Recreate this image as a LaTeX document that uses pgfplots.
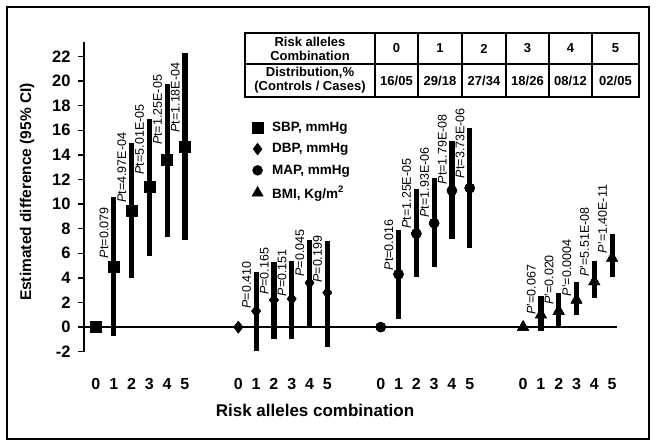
\documentclass[border=0pt]{standalone}
\usepackage{fontspec}
\setmainfont{Liberation Sans}
\usepackage{pgfplots}
\pgfplotsset{compat=1.18}
\usepackage{pgfplotstable}

% x = position, y = estimate, lo/hi = 95% CI
\pgfplotstableread{
x y lo hi
0 0 0 0
1 4.95 -0.7 10.6
2 9.5 4.0 15.0
3 11.4 5.8 16.9
4 13.6 7.3 19.8
5 14.7 7.1 22.3
}\sbp
\pgfplotstableread{
x y lo hi
8 0 0 0
9 1.3 -1.95 4.5
10 2.2 -1.0 5.3
11 2.3 -1.0 5.4
12 3.6 0.05 7.1
13 2.8 -1.6 7.0
}\dbp
\pgfplotstableread{
x y lo hi
16 0 0 0
17 4.3 0.65 7.9
18 7.6 4.1 11.2
19 8.45 4.9 12.1
20 11.1 7.15 15.1
21 11.3 6.4 16.2
}\map
\pgfplotstableread{
x y lo hi
24 0 0 0
25 1.0 -0.3 2.5
26 1.3 0.05 2.8
27 2.2 1.0 3.7
28 3.7 2.35 5.4
29 5.6 4.05 7.6
}\bmi

\pgfplotsset{ebar/.style={draw=none, mark=none, forget plot, skip coords between index={0}{1},
  error bars/.cd, y dir=both, y explicit, error mark=none,
  error bar style={line width=5.2pt, black}}}

\begin{document}
\begin{tikzpicture}[x=1pt,y=1pt]
\useasboundingbox (0,0) rectangle (658,447);
\draw[line width=1.8pt] (7,440) rectangle (649,8);

\begin{axis}[
  at={(84pt,95.3pt)}, anchor=south west, scale only axis,
  width=537pt, height=310pt,
  xmin=-0.67, xmax=29.5, ymin=-2, ymax=23.2,
  clip=false,
  axis lines=left,
  axis line style={-, line width=1.8pt},
  x axis line style={draw=none},
  ytick={-2,0,2,4,6,8,10,12,14,16,18,20,22},
  xtick={0,1,2,3,4,5,8,9,10,11,12,13,16,17,18,19,20,21,24,25,26,27,28,29},
  xticklabels={0,1,2,3,4,5,0,1,2,3,4,5,0,1,2,3,4,5,0,1,2,3,4,5},
  tick align=outside,
  major tick length=6pt,
  ytick style={line width=1.5pt, black},
  xtick style={draw=none},
  /pgf/number format/assume math mode=true,
  yticklabel style={font=\bfseries\fontsize{16.5}{16.5}\selectfont, xshift=-4pt},
  xticklabel style={font=\bfseries\fontsize{16}{16}\selectfont, yshift=-17pt},
  legend style={at={(0.3124,0.7473)}, anchor=north west, draw=none, fill=none,
    font=\bfseries\fontsize{13.5}{13.5}\selectfont, row sep=6.5pt,
    inner sep=0pt, /tikz/every odd column/.append style={column sep=7pt}},
  legend cell align=left,
]
\draw[line width=1.8pt] (axis cs:-0.67,0) -- (axis cs:29.3,0);

\addplot[only marks, mark=square*, mark size=5.5pt, black] table[x=x,y=y] {\sbp};
\addlegendentry{SBP, mmHg}
\addplot[only marks, mark=diamond*, mark size=6pt, black] table[x=x,y=y] {\dbp};
\addlegendentry{DBP, mmHg}
\addplot[only marks, mark=*, mark size=5pt, black] table[x=x,y=y] {\map};
\addlegendentry{MAP, mmHg}
\addplot[only marks, mark=triangle*, mark size=6.5pt, black] table[x=x,y=y] {\bmi};
\addlegendentry{BMI, Kg/m\textsuperscript{2}}

\addplot[ebar] table[x=x, y=y, y error plus expr=\thisrow{hi}-\thisrow{y},
        y error minus expr=\thisrow{y}-\thisrow{lo}] {\sbp};
\addplot[ebar] table[x=x, y=y, y error plus expr=\thisrow{hi}-\thisrow{y},
        y error minus expr=\thisrow{y}-\thisrow{lo}] {\dbp};
\addplot[ebar] table[x=x, y=y, y error plus expr=\thisrow{hi}-\thisrow{y},
        y error minus expr=\thisrow{y}-\thisrow{lo}] {\map};
\addplot[ebar] table[x=x, y=y, y error plus expr=\thisrow{hi}-\thisrow{y},
        y error minus expr=\thisrow{y}-\thisrow{lo}] {\bmi};

% redraw markers on top of the bars
\addplot[only marks, mark=square*, mark size=5.5pt, black, forget plot] table[x=x,y=y] {\sbp};
\addplot[only marks, mark=diamond*, mark size=6pt, black, forget plot] table[x=x,y=y] {\dbp};
\addplot[only marks, mark=*, mark size=5pt, black, forget plot] table[x=x,y=y] {\map};
\addplot[only marks, mark=triangle*, mark size=6.5pt, black, forget plot] table[x=x,y=y] {\bmi};

\tikzset{pl/.style={rotate=90, anchor=base west, inner sep=0pt, font=\fontsize{12.5}{12.5}\selectfont}}
% SBP
\node[pl] at (axis cs:0.70,5.6) {\textit{P}t=0.079};
\node[pl] at (axis cs:1.70,10.1) {\textit{P}t=4.97E-04};
\node[pl] at (axis cs:2.70,12.4) {\textit{P}t=5.01E-05};
\node[pl] at (axis cs:3.70,14.8) {\textit{P}t=1.25E-05};
\node[pl] at (axis cs:4.70,15.8) {\textit{P}t=1.18E-04};
% DBP
\node[pl] at (axis cs:8.70,1.5) {\textit{P}=0.410};
\node[pl] at (axis cs:9.70,2.6) {\textit{P}=0.165};
\node[pl] at (axis cs:10.70,2.5) {\textit{P}=0.151};
\node[pl] at (axis cs:11.70,4.1) {\textit{P}=0.045};
\node[pl] at (axis cs:12.70,3.6) {\textit{P}=0.199};
% MAP
\node[pl] at (axis cs:16.70,4.6) {\textit{P}t=0.016};
\node[pl] at (axis cs:17.70,8.0) {\textit{P}t=1.25E-05};
\node[pl] at (axis cs:18.70,8.9) {\textit{P}t=1.93E-06};
\node[pl] at (axis cs:19.70,11.6) {\textit{P}t=1.79E-08};
\node[pl] at (axis cs:20.70,12.1) {\textit{P}t=3.73E-06};
% BMI
\node[pl] at (axis cs:24.70,1.0) {\textit{P}'=0.067};
\node[pl] at (axis cs:25.70,1.8) {\textit{P}'=0.020};
\node[pl] at (axis cs:26.70,2.5) {\textit{P}'=0.0004};
\node[pl] at (axis cs:27.70,4.1) {\textit{P}'=5.51E-08};
\node[pl] at (axis cs:28.70,6.0) {\textit{P}'=1.40E-11};
\end{axis}

% axis titles
\node[rotate=90, font=\bfseries\fontsize{15.5}{15.5}\selectfont] at (27,255) {Estimated difference (95\% CI)};
\node[font=\bfseries\fontsize{17}{17}\selectfont] at (315,37) {Risk alleles combination};

% table
\draw[line width=1.3pt] (245,414) rectangle (639,350);
\draw[line width=1.3pt] (245,383) -- (639,383);
\foreach \xx in {375,418,462,506,549,592} \draw[line width=1.3pt] (\xx,414) -- (\xx,350);
\begin{scope}[every node/.style={font=\bfseries\fontsize{13}{14}\selectfont, align=center, inner sep=0pt}]
\node at (310,398.5) {Risk alleles\\Combination};
\node at (310,366.5) {Distribution,\%\\(Controls / Cases)};
\node at (396.5,398.5) {0};
\node at (440,398.5) {1};
\node at (484,398.5) {2};
\node at (527.5,398.5) {3};
\node at (570.5,398.5) {4};
\node at (615.5,398.5) {5};
\node at (396.5,366.5) {16/05};
\node at (440,366.5) {29/18};
\node at (484,366.5) {27/34};
\node at (527.5,366.5) {18/26};
\node at (570.5,366.5) {08/12};
\node at (615.5,366.5) {02/05};
\end{scope}
\end{tikzpicture}
\end{document}
